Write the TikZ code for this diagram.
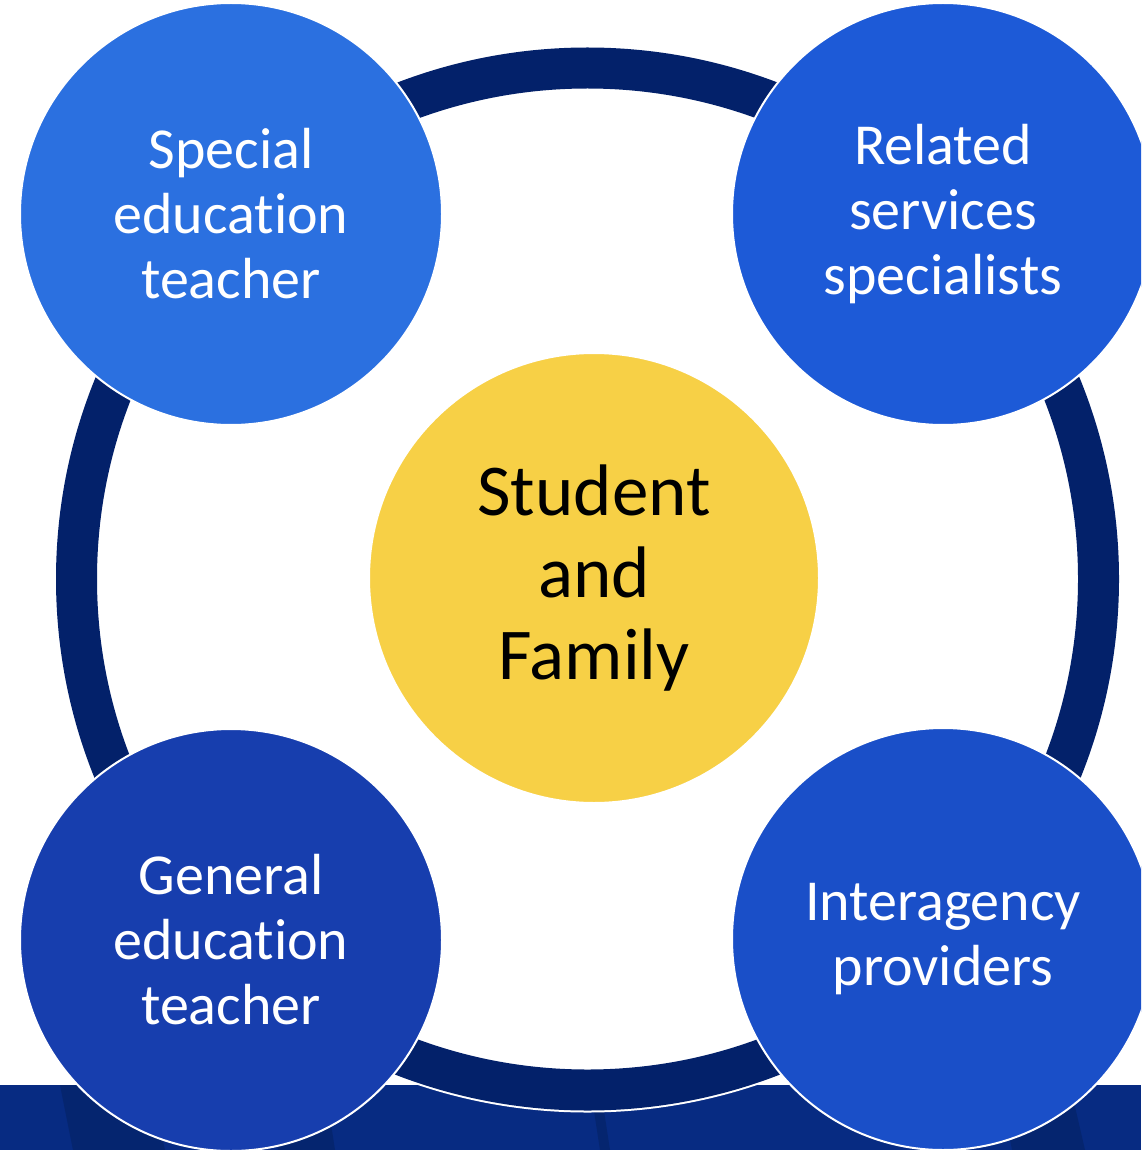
\documentclass[tikz,border=0pt]{standalone}
\usepackage{fontspec}
\setmainfont[Ligatures=NoCommon]{Carlito}
\newcommand{\nolig}{\kern0pt }
\definecolor{ringnavy}{HTML}{03216A}
\definecolor{bandnavy}{HTML}{072B82}
\definecolor{bandstripe}{HTML}{05256F}
\definecolor{cTL}{HTML}{2B70E0}
\definecolor{cTR}{HTML}{1D5AD7}
\definecolor{cBL}{HTML}{173EAE}
\definecolor{cBR}{HTML}{1A4FC8}
\definecolor{cCenter}{HTML}{F7D046}
\tikzset{
  role/.style={circle, minimum size=211pt, inner sep=0pt, draw=white, line width=1pt,
    text=white, align=center, font=\fontsize{29}{32.5}\selectfont},
  hub/.style={circle, minimum size=225pt, inner sep=0pt, draw=white, line width=1pt,
    fill=cCenter, text=black, align=center, font=\fontsize{36.5}{41}\selectfont},
}
\begin{document}
\begin{tikzpicture}[x=0.5pt,y=-0.5pt]
\useasboundingbox (0,0) rectangle (1141,1150);
\clip (0,0) rectangle (1141,1150);
\fill[white] (0,0) rectangle (1141,1150);
% bottom band
\fill[bandnavy] (0,1085) rectangle (1141,1150);
\fill[bandstripe] (60,1085) -- (150,1085) -- (165,1150) -- (73,1150) -- cycle;
\fill[bandstripe] (268,1085) -- (325,1085) -- (335,1150) -- (278,1150) -- cycle;
\fill[bandstripe] (590,1085) -- (600,1085) -- (610,1150) -- (600,1150) -- cycle;
\fill[bandstripe] (1000,1085) -- (1070,1085) -- (1085,1150) -- (1012,1150) -- cycle;
% ring
\coordinate (ringc) at (587.5,579);
\draw[white, line width=22.5pt] (ringc) circle[radius=511];
\draw[ringnavy, line width=20.5pt] (ringc) circle[radius=511];
% centre
\node[hub] (center) at (594,578) {Student\\and\\Family};
% outer roles
\node[role, fill=cTL] (spec) at (231,214) {Special\\educat\nolig ion\\teacher};
\node[role, fill=cTR] (rel) at (943,214) {Related\\services\\specialists};
\node[role, fill=cBL] (gen) at (231,940) {General\\educat\nolig ion\\teacher};
\node[role, fill=cBR] (inter) at (943,939) {Interagency\\providers};
\end{tikzpicture}
\end{document}
